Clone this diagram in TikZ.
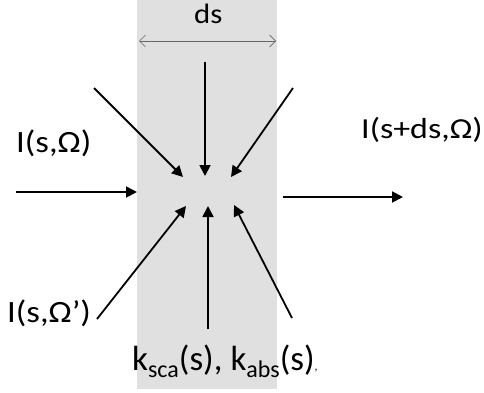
\documentclass[tikz,border=0pt]{standalone}
\usepackage{fontspec}
\setmainfont{Carlito}
\usetikzlibrary{arrows.meta}
\newcommand{\subtxt}[1]{\raisebox{-7pt}{\fontsize{24}{26}\selectfont #1}}
\newcommand{\stxt}[3]{\scalebox{#2}[1]{\fontsize{#1}{#1}\selectfont #3}}
\begin{document}
\begin{tikzpicture}[x=1pt,y=-1pt,
  lbl/.style={inner sep=0pt,anchor=base west},
  flux/.style={line width=1.8pt,-{Triangle[length=11pt,width=11pt]}},
  width/.style={draw=black!60,line width=0.7pt,{Straight Barb[length=6pt,width=12pt]}-{Straight Barb[length=6pt,width=12pt]}}]
\useasboundingbox (0,0) rectangle (484,393);
\fill[black!12] (137,0) rectangle (277,389);
% width marker
\coordinate (wl) at (139,41);
\coordinate (wr) at (276,41);
\draw[width] (wl) -- (wr);
\node[lbl] (ds) at (194,24) {\stxt{28}{1.1}{ds}};
% labels
\node[lbl] (lin) at (16,152) {\stxt{31}{1.12}{I(s,Ω)}};
\node[lbl] (lout) at (361,139) {\stxt{29}{1.17}{I(s+ds,Ω)}};
\node[lbl] (lsc) at (7,322) {\stxt{31}{1.12}{I(s,Ω’)}};
\node[lbl] (lk) at (132,370) {\fontsize{35}{40}\selectfont k\subtxt{sca}(s), k\subtxt{abs}(s)\fontsize{12}{14}\selectfont,};
% flux arrows
\coordinate (a1) at (16,192);  \coordinate (b1) at (137,192);
\coordinate (a2) at (283,197); \coordinate (b2) at (403,197);
\coordinate (a3) at (205,62);  \coordinate (b3) at (205,176);
\coordinate (a4) at (94,88);   \coordinate (b4) at (183,177);
\coordinate (a5) at (293,88);  \coordinate (b5) at (231,177);
\coordinate (a6) at (97,319);  \coordinate (b6) at (186,206);
\coordinate (a7) at (208,329); \coordinate (b7) at (208,206);
\coordinate (a8) at (292,318); \coordinate (b8) at (234,205);
\foreach \i in {1,...,8} \draw[flux] (a\i) -- (b\i);
\end{tikzpicture}
\end{document}
